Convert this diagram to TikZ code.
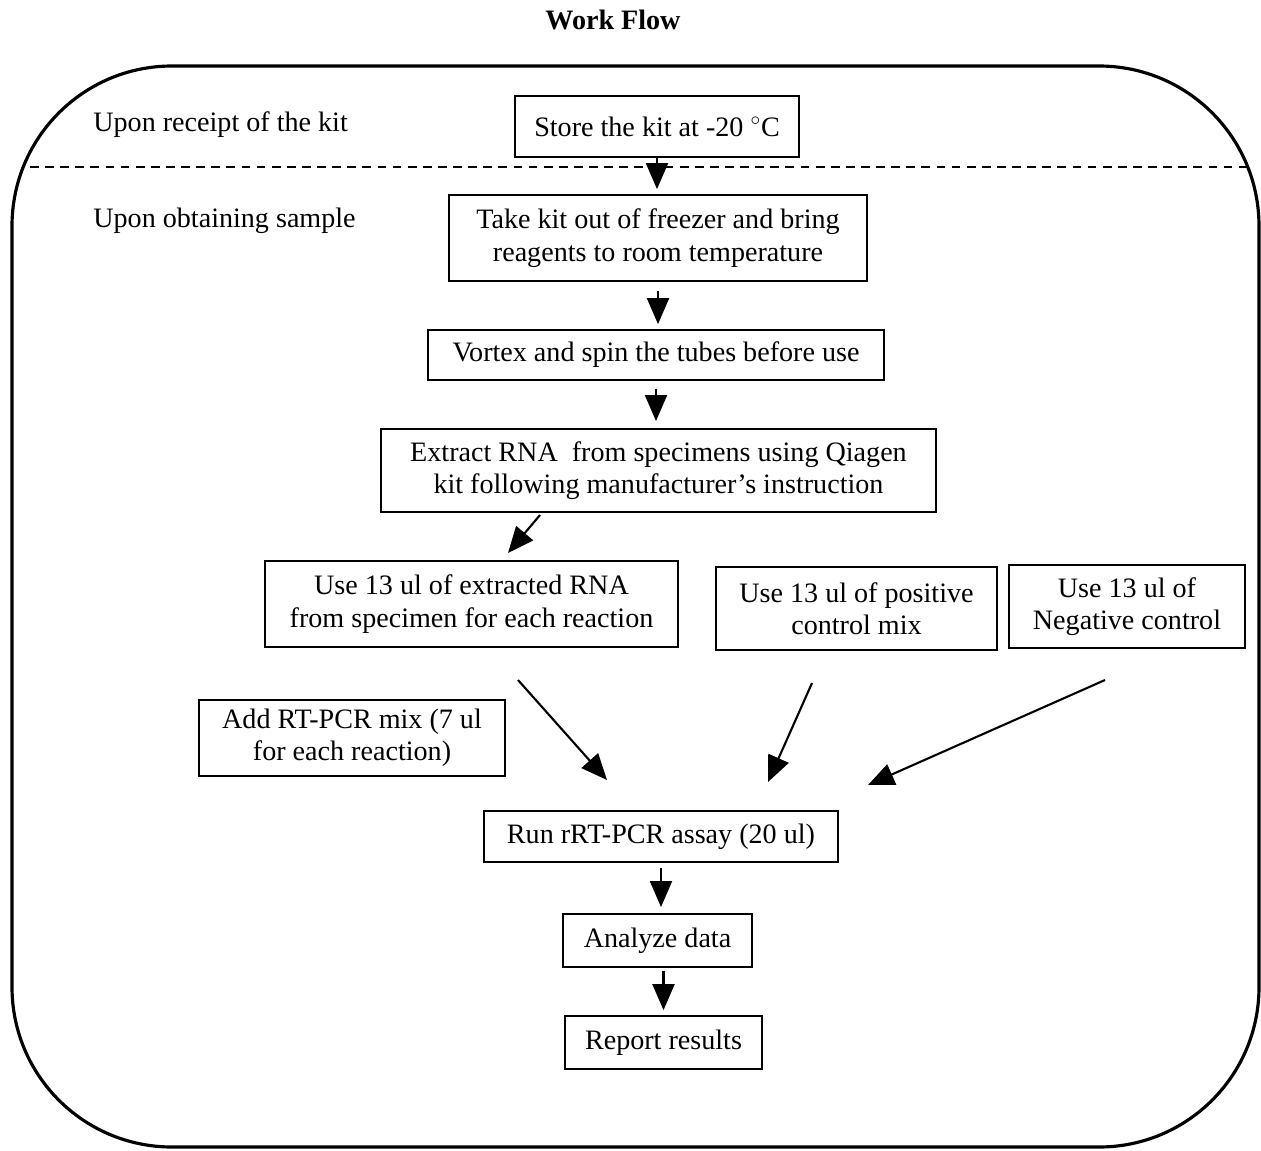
\documentclass[tikz,border=0pt]{standalone}
\usepackage{fontspec}
\setmainfont{Liberation Serif}
\usetikzlibrary{arrows.meta}
\tikzset{
  stepbox/.style={draw, line width=1.1pt, inner sep=0pt, align=center,
    font=\fontsize{16}{18.4}\selectfont},
  lbl/.style={anchor=west, inner sep=0pt, font=\fontsize{16}{18.4}\selectfont},
  arr/.style={line width=1.2pt, -{Triangle[width=0.44cm,length=0.52cm]}},
  frame/.style={line width=1.8pt, rounded corners=3.2cm},
  divider/.style={line width=0.9pt, dash pattern=on 5pt off 3.6pt}
}
\begin{document}
\begin{tikzpicture}[x=0.02cm, y=-0.02cm]
\useasboundingbox (0,0) rectangle (1261,1150);
% title
\node[font=\fontsize{16}{18}\selectfont\bfseries] (title) at (613,20) {Work Flow};
% outer frame
\draw[frame] (12,66) rectangle (1259,1147);
\draw[divider] (30,167) -- (1247,167);
% phase labels
\node[lbl] (lrec) at (93,125) {Upon receipt of the kit};
\node[lbl] (lobt) at (93,221) {Upon obtaining sample};
% boxes
\node[stepbox, minimum width=5.68cm, minimum height=1.22cm] (store) at (657,126.5) {Store the kit at -20 $^{\circ}$C};
\node[stepbox, minimum width=8.36cm, minimum height=1.72cm] (take) at (658,238) {Take kit out of freezer and bring\\reagents to room temperature};
\node[stepbox, minimum width=9.12cm, minimum height=1.0cm] (vortex) at (656,355) {Vortex and spin the tubes before use};
\node[stepbox, minimum width=11.1cm, minimum height=1.66cm] (extract) at (658.5,470.5) {Extract RNA\ \ from specimens using Qiagen\\kit following manufacturer’s instruction};
\node[stepbox, minimum width=8.26cm, minimum height=1.72cm] (rna) at (471.5,604) {Use 13 ul of extracted RNA\\from specimen for each reaction};
\node[stepbox, minimum width=5.62cm, minimum height=1.66cm] (pos) at (856.5,608.5) {Use 13 ul of positive\\control mix};
\node[stepbox, minimum width=4.72cm, minimum height=1.66cm] (neg) at (1127,606.5) {Use 13 ul of\\Negative control};
\node[stepbox, minimum width=6.12cm, minimum height=1.52cm] (add) at (352,738) {Add RT-PCR mix (7 ul\\for each reaction)};
\node[stepbox, minimum width=7.08cm, minimum height=1.02cm] (run) at (661,836.5) {Run rRT-PCR assay (20 ul)};
\node[stepbox, minimum width=3.78cm, minimum height=1.06cm] (analyze) at (657.5,940.5) {Analyze data};
\node[stepbox, minimum width=3.94cm, minimum height=1.06cm] (report) at (663.5,1042.5) {Report results};
% free connector ends
\coordinate (extract-out) at (540,515);
\coordinate (rna-in) at (508,553);
\coordinate (rna-out) at (518,680);
\coordinate (run-in1) at (607,780);
\coordinate (pos-out) at (812,683);
\coordinate (run-in2) at (768,782);
\coordinate (neg-out) at (1105,680);
\coordinate (run-in3) at (868,785);
% connectors
\draw[arr] (store.south) -- ([yshift=2.8pt]store.south |- take.north);
\draw[arr, shorten <=5pt, shorten >=2.8pt] (take.south) -- (take.south |- vortex.north);
\draw[arr, shorten <=4.5pt, shorten >=4pt] (vortex.south) -- (vortex.south |- extract.north);
\draw[arr] (extract-out) -- (rna-in);
\draw[arr] (rna-out) -- (run-in1);
\draw[arr] (pos-out) -- (run-in2);
\draw[arr] (neg-out) -- (run-in3);
\draw[arr, shorten <=3pt, shorten >=3.4pt] (run.south) -- (run.south |- analyze.north);
\draw[arr, shorten <=1.7pt, shorten >=2.8pt] (report.north |- analyze.south) -- (report.north);
\end{tikzpicture}
\end{document}
